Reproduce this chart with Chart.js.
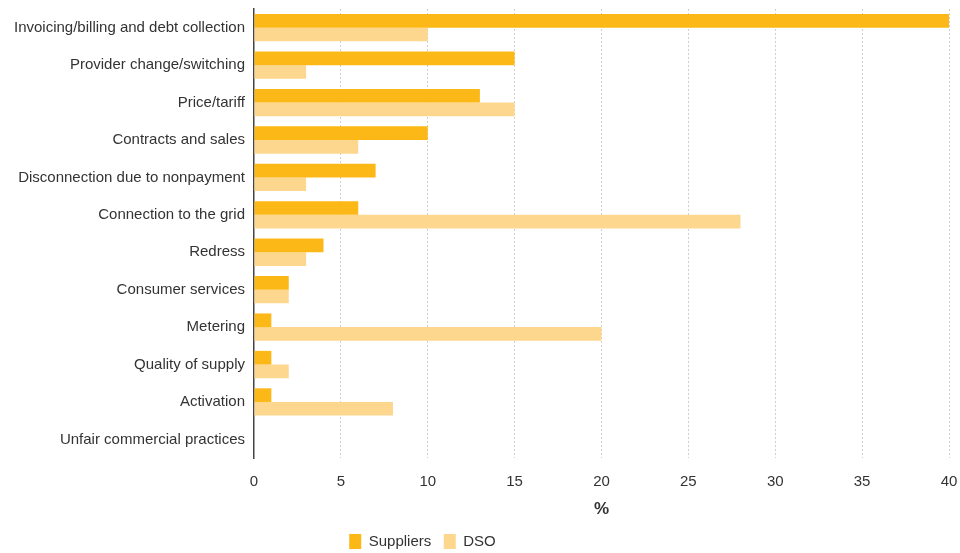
<!DOCTYPE html>
<html>
<head>
<meta charset="utf-8">
<script src="https://cdn.jsdelivr.net/npm/chart.js@4"></script>
<style>
  html, body { margin: 0; padding: 0; background: #fff; }
  #wrap { width: 960px; height: 553px; }
</style>
</head>
<body>
<div id="wrap"><canvas id="myChart"></canvas></div>
<script>
const categories = [
  "Invoicing/billing and debt collection",
  "Provider change/switching",
  "Price/tariff",
  "Contracts and sales",
  "Disconnection due to nonpayment",
  "Connection to the grid",
  "Redress",
  "Consumer services",
  "Metering",
  "Quality of supply",
  "Activation",
  "Unfair commercial practices"
];
const suppliers = [40, 15, 13, 10, 7, 6, 4, 2, 1, 1, 1, 0];
const dso = [10, 3, 15, 6, 3, 28, 3, 2, 20, 2, 8, 0];
const xTicks = [0, 5, 10, 15, 20, 25, 30, 35, 40];

Chart.defaults.font.family = "'Liberation Sans', Arial, sans-serif";
Chart.defaults.color = "#333";

// legend in the reference sits left of centre and a bit lower
const shiftLegend = {
  id: "shiftLegend",
  afterLayout(chart) {
    const lg = chart.legend;
    if (!lg) return;
    lg.left -= 59;
    lg.right -= 59;
    lg.top += 6;
    lg.bottom += 6;
  }
};

new Chart(document.getElementById("myChart"), {
  type: "bar",
  data: {
    labels: categories,
    datasets: [
      { label: "Suppliers", data: suppliers, backgroundColor: "#FBB817" },
      { label: "DSO", data: dso, backgroundColor: "#FDD78E" }
    ]
  },
  options: {
    indexAxis: "y",
    responsive: true,
    maintainAspectRatio: false,
    animation: false,
    layout: { padding: { top: 0, right: 11, left: 14, bottom: 0 } },
    datasets: { bar: { barPercentage: 1, categoryPercentage: 0.73 } },
    scales: {
      x: {
        min: 0, max: 40,
        afterBuildTicks: (s) => { s.ticks = xTicks.map(v => ({ value: v })); },
        grid: { color: "#cfcfcf", lineWidth: 1, drawTicks: true, tickLength: 16, tickColor: "rgba(0,0,0,0)" },
        border: { display: false, dash: [2, 2] },
        ticks: { padding: 0, font: { size: 15, lineHeight: 1.1 }, color: "#333" },
        title: { display: true, text: "%", font: { size: 17, weight: "bold" }, color: "#333", padding: { top: 9, bottom: 8 } }
      },
      y: {
        grid: { display: true, drawOnChartArea: false, drawTicks: true, tickLength: 9, tickColor: "rgba(0,0,0,0)" },
        border: { display: true, color: "#444", width: 1.5 },
        ticks: { padding: 0, font: { size: 15 }, color: "#333" }
      }
    },
    plugins: {
      legend: {
        position: "bottom",
        labels: {
          boxWidth: 12, boxHeight: 15, padding: 0, font: { size: 15 }, color: "#333",
          generateLabels(chart) {
            const items = Chart.defaults.plugins.legend.labels.generateLabels(chart);
            items.forEach((it, i) => { if (i < items.length - 1) it.text += "   "; });
            return items;
          }
        }
      },
      tooltip: { enabled: false }
    }
  },
  plugins: [shiftLegend]
});
</script>
</body>
</html>
